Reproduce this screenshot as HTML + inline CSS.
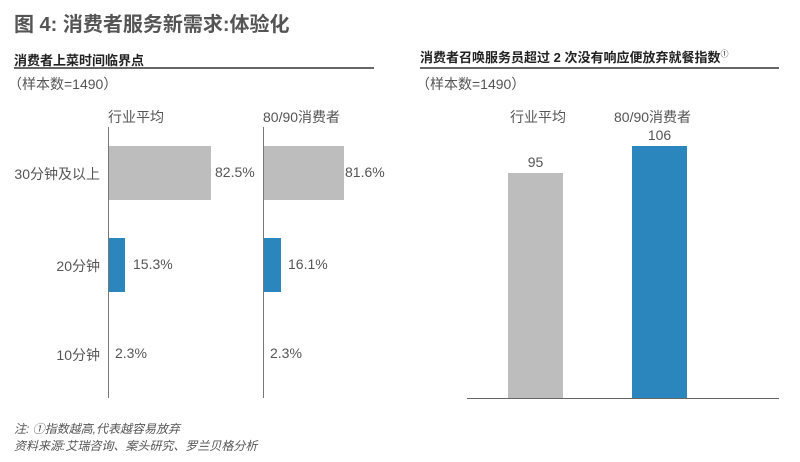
<!DOCTYPE html>
<html><head><meta charset="utf-8"><style>
body{margin:0;width:800px;height:462px;background:#fff;position:relative;overflow:hidden;font-family:"Liberation Sans","Noto Sans CJK SC",sans-serif;color:#555}
div{position:absolute;white-space:nowrap}
.b{font-weight:bold}
.s{font-size:14px;color:#555}
.lab{font-size:14px;color:#555}
</style></head><body>
<div class="b" style="left:14px;top:8px;font-size:20px;color:#555">图 4: 消费者服务新需求:体验化</div>
<div class="b" style="left:14px;top:50px;font-size:13px;color:#222">消费者上菜时间临界点</div>
<div style="left:14px;top:67px;width:360px;height:2px;background:#666"></div>
<div class="s" style="left:8px;top:74px">（样本数=1490）</div>
<div class="b" style="left:420px;top:47px;font-size:13px;color:#222">消费者召唤服务员超过 2 次没有响应便放弃就餐指数<sup style="font-size:8px;font-weight:normal">①</sup></div>
<div style="left:420px;top:67px;width:359px;height:2px;background:#666"></div>
<div class="s" style="left:416px;top:74px">（样本数=1490）</div>

<div class="lab" style="left:108px;top:107px">行业平均</div>
<div class="lab" style="left:263px;top:107px">80/90消费者</div>
<div style="left:108px;top:127px;width:1px;height:271px;background:#777"></div>
<div style="left:263px;top:127px;width:1px;height:271px;background:#777"></div>

<div class="lab" style="left:0;width:100px;text-align:right;top:164px">30分钟及以上</div>
<div style="left:109px;top:146px;width:102px;height:54px;background:#bdbdbe"></div>
<div class="lab" style="left:215px;top:164px">82.5%</div>
<div style="left:264px;top:146px;width:80px;height:54px;background:#bdbdbe"></div>
<div class="lab" style="left:345px;top:164px">81.6%</div>

<div class="lab" style="left:0;width:100px;text-align:right;top:256px">20分钟</div>
<div style="left:109px;top:238px;width:16px;height:54px;background:#2b86be"></div>
<div class="lab" style="left:133px;top:256px">15.3%</div>
<div style="left:264px;top:238px;width:17px;height:54px;background:#2b86be"></div>
<div class="lab" style="left:288px;top:256px">16.1%</div>

<div class="lab" style="left:0;width:100px;text-align:right;top:345px">10分钟</div>
<div class="lab" style="left:115px;top:345px">2.3%</div>
<div class="lab" style="left:270px;top:345px">2.3%</div>

<div class="lab" style="left:510px;top:107px">行业平均</div>
<div class="lab" style="left:614px;top:107px">80/90消费者</div>
<div class="lab" style="left:508px;width:55px;text-align:center;top:154px">95</div>
<div class="lab" style="left:632px;width:55px;text-align:center;top:127px">106</div>
<div style="left:508px;top:173px;width:55px;height:225px;background:#bdbdbe"></div>
<div style="left:632px;top:146px;width:55px;height:252px;background:#2b86be"></div>
<div style="left:467px;top:398px;width:312px;height:1px;background:#666"></div>

<div style="left:14px;top:420px;font-size:12px;font-style:italic;color:#555">注: ①指数越高,代表越容易放弃</div>
<div style="left:14px;top:437px;font-size:12px;font-style:italic;color:#555">资料来源:艾瑞咨询、案头研究、罗兰贝格分析</div>
</body></html>
